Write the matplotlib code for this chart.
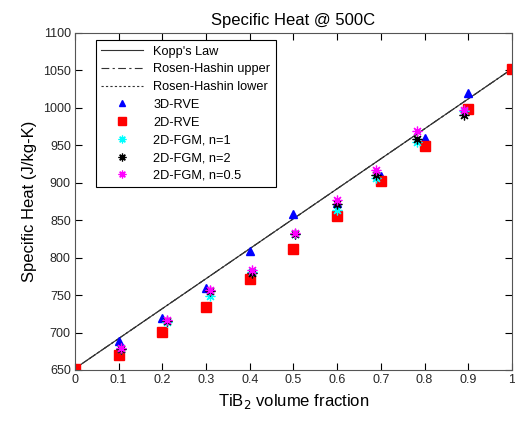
import matplotlib.pyplot as plt

plt.rcParams['font.family'] = ['Liberation Sans', 'DejaVu Sans']

# Kopp's law and Rosen-Hashin bounds (end points)
line_x = [0.0, 1.0]
kopp = [652, 1052]
rh_upper = [652, 1052]
rh_lower = [652, 1052]

# 3D-RVE
rve3d_x = [0.0, 0.1, 0.2, 0.3, 0.4, 0.5, 0.6, 0.7, 0.8, 0.9, 1.0]
rve3d_y = [652, 689, 720, 760, 809, 858, 873, 909, 960, 1020, 1052]

# 2D-RVE
rve2d_x = [0.0, 0.1, 0.2, 0.3, 0.4, 0.5, 0.6, 0.7, 0.8, 0.9, 1.0]
rve2d_y = [652, 670, 701, 734, 772, 812, 856, 902, 949, 999, 1052]

# 2D-FGM
fgm_x = [0.105, 0.21, 0.31, 0.405, 0.503, 0.6, 0.69, 0.782, 0.89]
fgm_n1 = [678, 714, 749, 781, 832, 864, 906, 954, 996]
fgm_n2 = [678, 716, 755, 779, 832, 871, 910, 959, 990]
fgm_n05 = [679, 717, 757, 784, 833, 877, 917, 969, 997]

fig = plt.figure(figsize=(5.15, 4.23), dpi=100)
ax = fig.add_axes([0.1456, 0.1253, 0.8484, 0.7967])

ax.plot(line_x, kopp, '-', color='#333333', lw=0.8, label="Kopp's Law")
ax.plot(line_x, rh_upper, color='#333333', lw=0.8, dashes=(7, 3, 2, 3), label='Rosen-Hashin upper')
ax.plot(line_x, rh_lower, color='#333333', lw=0.8, dashes=(2, 2), label='Rosen-Hashin lower')

star = (8, 2, 0)
ax.plot(rve3d_x, rve3d_y, '^', color='blue', ms=5.5, ls='none', label='3D-RVE')
ax.plot(rve2d_x, rve2d_y, 's', color='red', ms=6.5, ls='none', label='2D-RVE')
ax.plot(fgm_x, fgm_n1, marker=star, color='cyan', mec='cyan', ms=7, mew=0.9, ls='none', label='2D-FGM, n=1')
ax.plot(fgm_x, fgm_n2, marker=star, color='black', mec='black', ms=7, mew=0.9, ls='none', label='2D-FGM, n=2')
ax.plot(fgm_x, fgm_n05, marker=star, color='magenta', mec='magenta', ms=7, mew=0.9, ls='none', label='2D-FGM, n=0.5')

ax.set_xlim(0, 1)
ax.set_ylim(650, 1100)
ax.set_xticks([0, 0.1, 0.2, 0.3, 0.4, 0.5, 0.6, 0.7, 0.8, 0.9, 1])
ax.set_xticklabels(['0', '0.1', '0.2', '0.3', '0.4', '0.5', '0.6', '0.7', '0.8', '0.9', '1'])
ax.set_yticks(range(650, 1101, 50))
ax.tick_params(direction='in', top=True, right=True, labelsize=9, length=5, pad=3,
               labelcolor='#262626')
for s in ax.spines.values():
    s.set_color('#555555')

ax.set_title('Specific Heat @ 500C', fontsize=12)
ax.set_xlabel('TiB$_2$ volume fraction', fontsize=12)
ax.set_ylabel('Specific Heat (J/kg-K)', fontsize=12)

leg = ax.legend(loc='upper left', bbox_to_anchor=(0.048, 0.978), fontsize=9.2,
                fancybox=False, edgecolor='black', framealpha=1, markerscale=0.8,
                handlelength=3.3, borderaxespad=0, labelspacing=0.45, borderpad=0.4)
leg.get_frame().set_linewidth(0.8)

fig.savefig('out.png', dpi=100)
